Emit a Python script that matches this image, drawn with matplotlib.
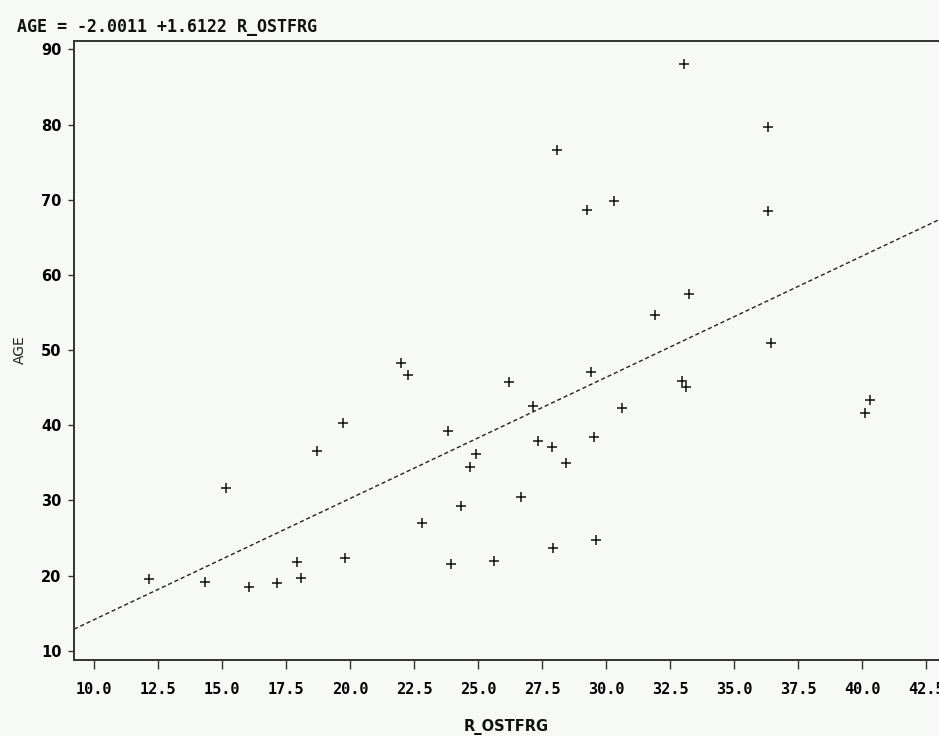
import numpy as np
import matplotlib
matplotlib.use("Agg")
import matplotlib.pyplot as plt

# data
r_ostfrg = [12.16, 14.35, 15.14, 16.05, 17.16, 17.92, 18.07, 18.70, 19.74, 19.82,
            21.99, 22.25, 22.82, 23.83, 23.93, 24.34, 24.69, 24.92, 25.64, 26.20,
            26.68, 27.16, 27.34, 27.89, 27.94, 28.07, 28.42, 29.27, 29.43, 29.53,
            29.60, 30.31, 30.64, 31.90, 32.97, 33.06, 33.13, 33.25, 36.34, 36.34,
            36.45, 40.13, 40.31]
age = [19.53, 19.10, 31.68, 18.43, 18.96, 21.84, 19.63, 36.60, 40.24, 22.29,
       48.30, 46.66, 27.02, 39.26, 21.49, 29.28, 34.49, 36.13, 21.93, 45.73,
       30.48, 42.58, 37.89, 37.13, 23.70, 76.58, 34.92, 68.60, 47.10, 38.38,
       24.72, 69.84, 42.34, 54.60, 45.86, 88.11, 45.07, 57.43, 79.68, 68.51,
       50.96, 41.65, 43.34]
intercept = -2.0011
slope = 1.6122
xticks = [10.0, 12.5, 15.0, 17.5, 20.0, 22.5, 25.0, 27.5, 30.0, 32.5, 35.0, 37.5, 40.0, 42.5]
yticks = [10, 20, 30, 40, 50, 60, 70, 80, 90]

bg = "#f6f9f5"
W, H = 939, 736
fig = plt.figure(figsize=(W / 100, H / 100), dpi=100, facecolor=bg)

# axes placed in pixel terms, right edge runs off the figure
left_px, right_px, top_px, bot_px = 74, 1000, 40.7, 660
ax = fig.add_axes([left_px / W, 1 - bot_px / H, (right_px - left_px) / W, (bot_px - top_px) / H])
ax.set_facecolor(bg)

x_lo = 10 + (left_px - 94) / 25.6
x_hi = 10 + (right_px - 94) / 25.6
ax.set_xlim(x_lo, x_hi)
ax.set_ylim(8.76, 91.15)

# regression line
xs = np.array([x_lo, x_hi])
ax.plot(xs, intercept + slope * xs, color="#222222", lw=1.0, linestyle=(0, (3, 2)))

# observations
ax.plot(r_ostfrg, age, linestyle="none", marker="+", markersize=7.5,
        markeredgewidth=1.1, color="#111111")

for s in ["left", "top", "bottom"]:
    ax.spines[s].set_color("#333333")
    ax.spines[s].set_linewidth(1.4)
ax.spines["right"].set_visible(False)

mono = "DejaVu Sans Mono"
ax.set_xticks(xticks)
ax.set_xticklabels([f"{t:.1f}" for t in xticks], fontfamily=mono,
                   fontweight="bold", fontsize=11)
ax.set_yticks(yticks)
ax.set_yticklabels([str(t) for t in yticks], fontfamily="DejaVu Sans",
                   fontweight="bold", fontsize=10.5)
ax.tick_params(axis="x", direction="out", length=6.5, width=1, color="#333333", pad=9)
ax.tick_params(axis="y", direction="out", length=4, width=1, color="#333333", pad=5)

fig.text(17 / W, 1 - 27 / H, "AGE = -2.0011 +1.6122 R_OSTFRG", fontfamily=mono,
         fontweight="bold", fontsize=12, ha="left", va="center", color="#111111")
fig.text(20 / W, 1 - 350 / H, "AGE", rotation=90, fontfamily="DejaVu Sans",
         fontsize=10, ha="center", va="center", color="#222222")
fig.text(506 / W, 1 - 727 / H, "R_OSTFRG", fontfamily="DejaVu Sans",
         fontweight="bold", fontsize=10.5, ha="center", va="center", color="#111111")

fig.savefig("out.png", dpi=100, facecolor=bg)
